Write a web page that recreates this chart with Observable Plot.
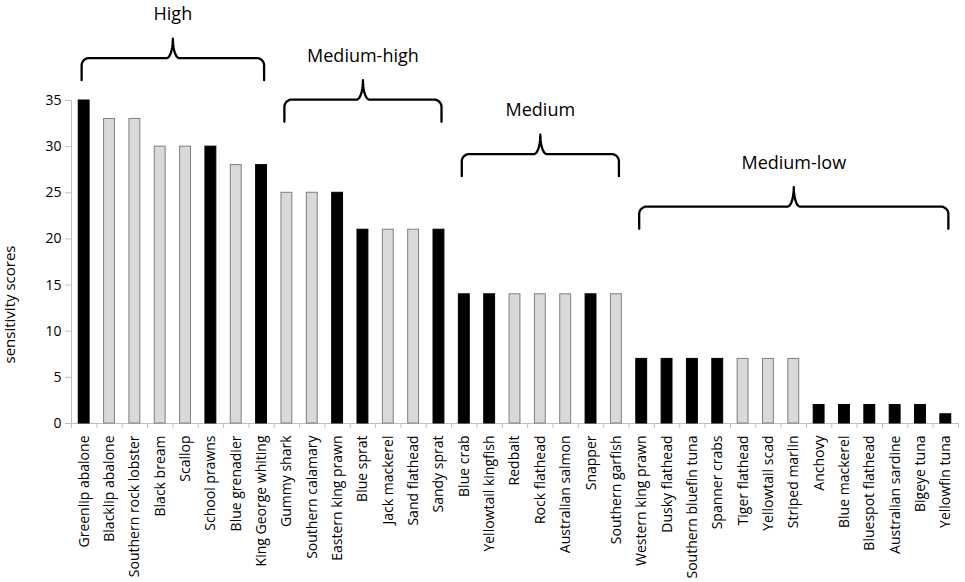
<!DOCTYPE html>
<html><head><meta charset="utf-8">
<script src="https://cdn.jsdelivr.net/npm/d3@7"></script>
<script src="https://cdn.jsdelivr.net/npm/@observablehq/plot@0.6"></script>
<style>html,body{margin:0;background:#fff}#chart svg{display:block}</style>
</head><body><div id="chart"></div>
<script>
const categories = ["Greenlip abalone","Blacklip abalone","Southern rock lobster","Black bream","Scallop","School prawns","Blue grenadier","King George whiting","Gummy shark","Southern calamary","Eastern king prawn","Blue sprat","Jack mackerel","Sand flathead","Sandy sprat","Blue crab","Yellowtail kingfish","Redbait","Rock flathead","Australian salmon","Snapper","Southern garfish","Western king prawn","Dusky flathead","Southern bluefin tuna","Spanner crabs","Tiger flathead","Yellowtail scad","Striped marlin","Anchovy","Blue mackerel","Bluespot flathead","Australian sardine","Bigeye tuna","Yellowfin tuna"];
const scores = [35,33,33,30,30,30,28,28,25,25,25,21,21,21,21,14,14,14,14,14,14,14,7,7,7,7,7,7,7,2,2,2,2,2,1];
const shades = ["dark","light","light","light","light","dark","light","dark","light","light","dark","dark","light","light","dark","dark","dark","light","light","light","dark","light","dark","dark","dark","dark","light","light","light","dark","dark","dark","dark","dark","dark"];
const yTicks = [0,5,10,15,20,25,30,35];
const yLabel = "sensitivity scores";

const groupLabels = ["High","Medium-high","Medium","Medium-low"];
const groupFirst = ["Greenlip abalone","Gummy shark","Blue crab","Western king prawn"];
const groupLast = ["King George whiting","Sandy sprat","Southern garfish","Yellowfin tuna"];
const groupFoot = [37.2, 32.7, 26.8, 21.1];

const data = categories.map((name, i) => ({name, i, score: scores[i], shade: shades[i]}));

// curly-brace annotation geometry (in scale units)
const ARM = 2.4, PEAK = 2.1, RX = 0.3, RY = 0.8, TX = 0.25, LBL = 2.6, INSET = 0.4;
const groups = groupLabels.map((label, k) => {
  const a = categories.indexOf(groupFirst[k]);
  const b = categories.indexOf(groupLast[k]) + 1;
  const xm = (a + b) / 2, half = (b - a) / 2 - INSET;
  const yb = groupFoot[k], yh = yb + ARM, yt = yh + PEAK;
  return {label, x1: xm - half, x2: xm + half, xm, yb, yh, yt};
});
const bracePoints = [];
groups.forEach((g, k) => {
  const pts = [];
  const arc = (cx, cy, rx, ry, t0, t1) => { for (let s = 0; s <= 10; s++) { const t = t0 + (t1 - t0) * s / 10; pts.push([cx + rx * Math.cos(t), cy + ry * Math.sin(t)]); } };
  pts.push([g.x1, g.yb]);
  arc(g.x1 + RX, g.yh - RY, RX, RY, Math.PI, Math.PI / 2);
  arc(g.xm - TX, g.yt, TX, PEAK, -Math.PI / 2, 0);
  arc(g.xm + TX, g.yt, TX, PEAK, Math.PI, 1.5 * Math.PI);
  arc(g.x2 - RX, g.yh - RY, RX, RY, Math.PI / 2, 0);
  pts.push([g.x2, g.yb]);
  pts.forEach(([x, y]) => bracePoints.push({g: k, x, y}));
});

const chart = Plot.plot({
  width: 965, height: 582,
  marginLeft: 71, marginRight: 7, marginTop: 100, marginBottom: 159,
  x: {domain: [0, categories.length], axis: null},
  y: {domain: [0, 35], axis: null},
  style: {fontFamily: "'Open Sans', sans-serif", fontSize: "13px", color: "#000", background: "#fff"},
  marks: [
    Plot.axisY({ticks: yTicks, tickSize: 6, tickPadding: 4, stroke: "#bfbfbf", label: null, fontSize: 14}),
    Plot.axisX({ticks: d3.range(categories.length + 1), tickFormat: () => "", tickSize: 5, stroke: "#bfbfbf", label: null}),
    Plot.axisX({ticks: data.map(d => d.i + 0.5), tickFormat: v => categories[Math.floor(v)], tickSize: 0, tickPadding: 12, tickRotate: -90, label: null, fontSize: 14}),
    Plot.ruleY([0], {stroke: "#bfbfbf"}),
    Plot.ruleX([0], {stroke: "#bfbfbf"}),
    Plot.rect(data, {
      x1: d => d.i + 0.285, x2: d => d.i + 0.715, y1: 0, y2: "score",
      fill: d => d.shade === "dark" ? "#000" : "#d9d9d9",
      stroke: d => d.shade === "dark" ? "#000" : "#7f7f7f", strokeWidth: 1
    }),
    Plot.line(bracePoints, {x: "x", y: "y", z: "g", stroke: "#000", strokeWidth: 2.3, strokeLinejoin: "round"}),
    Plot.text(groups, {x: "xm", y: d => d.yt + LBL, text: "label", fontSize: 18}),
    Plot.text([yLabel], {frameAnchor: "bottom-left", textAnchor: "middle", rotate: -90, dx: -57, dy: -119, fontSize: 15})
  ]
});
document.getElementById("chart").append(chart);
</script>
</body></html>
